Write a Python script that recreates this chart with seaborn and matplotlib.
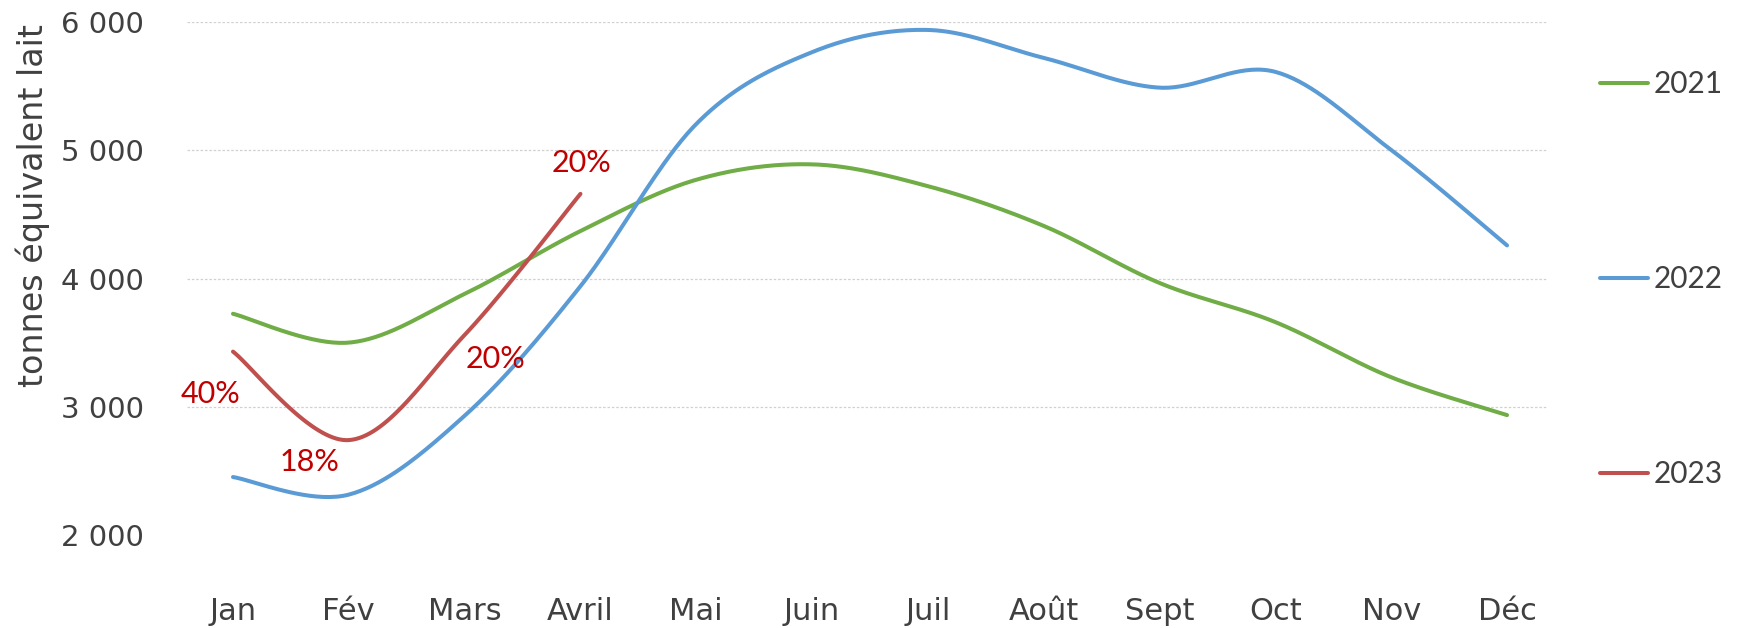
import numpy as np
import pandas as pd
import matplotlib
matplotlib.use("Agg")
import matplotlib.pyplot as plt
import seaborn as sns
from matplotlib.lines import Line2D

# ---- data ----
months = ["Jan", "Fév", "Mars", "Avril", "Mai", "Juin", "Juil", "Août", "Sept", "Oct", "Nov", "Déc"]
y2021 = [3725, 3500, 3880, 4370, 4770, 4890, 4720, 4410, 3965, 3660, 3230, 2935]
y2022 = [2452, 2315, 2930, 3940, 5205, 5765, 5938, 5720, 5488, 5611, 5002, 4258]
y2023 = [3430, 2740, 3560, 4660]
pct_labels = ["40%", "18%", "20%", "20%"]
series_names = ["2021", "2022", "2023"]
colors = ["#70AD47", "#5B9BD5", "#C0504D"]


def smooth(vals, n=40):
    """Excel-like smoothed line (Catmull-Rom Bezier) through the given points."""
    p = np.column_stack([np.arange(len(vals), dtype=float), np.asarray(vals, float)])
    ext = np.vstack([p[0], p, p[-1]])
    out = []
    t = np.linspace(0, 1, n)[:, None]
    for i in range(len(p) - 1):
        p0, p1, p2, p3 = ext[i], ext[i + 1], ext[i + 2], ext[i + 3]
        c1 = p1 + (p2 - p0) / 6.0
        c2 = p2 - (p3 - p1) / 6.0
        seg = ((1 - t) ** 3) * p1 + 3 * ((1 - t) ** 2) * t * c1 + 3 * (1 - t) * t ** 2 * c2 + t ** 3 * p2
        out.append(seg if i == 0 else seg[1:])
    return np.vstack(out)


sns.set_theme(style="white")
plt.rcParams["font.family"] = ["DejaVu Sans"]
TXT = "#404040"

W, H = 1739, 628
fig = plt.figure(figsize=(W / 100, H / 100), dpi=100)
ax = fig.add_axes([187 / W, 1 - 535 / H, (1547 - 187) / W, (535 - 22) / H])

frames = []
for name, vals in zip(series_names, [y2021, y2022, y2023]):
    s = smooth(vals)
    frames.append(pd.DataFrame({"x": s[:, 0], "y": s[:, 1], "serie": name}))
df = pd.concat(frames, ignore_index=True)

sns.lineplot(data=df, x="x", y="y", hue="serie", palette=colors, sort=False,
             estimator=None, units="serie", linewidth=2.9, ax=ax, legend=False,
             solid_capstyle="round")

ax.set_xlim(-0.397, 11.345)
ax.set_ylim(2000, 6000)
ax.set_xticks(range(len(months)))
ax.set_xticklabels(months)
yt = [2000, 3000, 4000, 5000, 6000]
ax.set_yticks(yt)
ax.set_yticklabels([f"{v:,}".replace(",", " ") for v in yt])
ax.tick_params(axis="x", length=0, pad=45, labelsize=22, colors=TXT)
ax.tick_params(axis="y", length=0, pad=31, labelsize=21, colors=TXT)
for sp in ax.spines.values():
    sp.set_visible(False)

ax.grid(False)
for v in [3000, 4000, 5000, 6000]:
    ax.axhline(v, color="#D0D0D0", lw=0.9, ls=(0, (2, 1.5)), zorder=0)

ax.set_xlabel("")
ax.set_ylabel("tonnes équivalent lait", fontsize=24, color=TXT)
ax.yaxis.set_label_coords(-0.1132, 0.643)
ax.yaxis.label.set_va("center")

# data labels for 2023 (offsets in points)
offsets = [(-16.5, -30.5), (-28, -15.5), (22, -17), (0.5, 22)]
for i, (lab, off) in enumerate(zip(pct_labels, offsets)):
    ax.annotate(lab, (i, y2023[i]), xytext=off, textcoords="offset points",
                ha="center", va="center", fontsize=22, color="#C00000",
                family=["Lato", "DejaVu Sans"])

# legend
handles = [Line2D([0], [0], color=c, lw=2.9, solid_capstyle="round") for c in colors]
fig.legend(handles, series_names, loc="upper left", bbox_to_anchor=(1600 / W, 1 - 70 / H),
           frameon=False, prop={"family": ["Lato", "DejaVu Sans"], "size": 21.5},
           labelcolor=TXT, handlelength=1.6, handletextpad=0.2, labelspacing=5.6,
           borderpad=0, borderaxespad=0)

fig.savefig("out.png", dpi=100, facecolor="white")
